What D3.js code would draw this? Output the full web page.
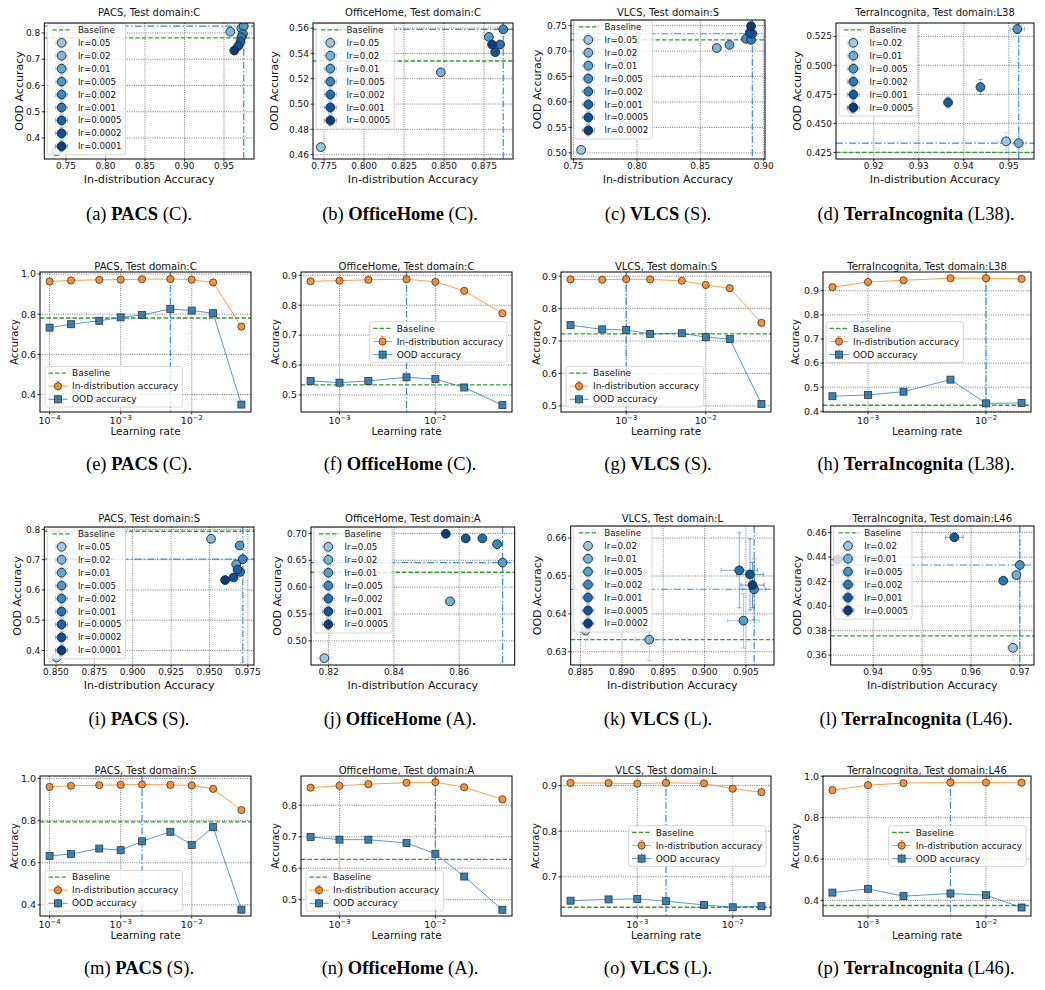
<!DOCTYPE html>
<html><head><meta charset="utf-8">
<script src="https://cdn.jsdelivr.net/npm/d3@7"></script>
<style>
body{margin:0;background:#fff;}
svg{display:block;}
text{font-family:"DejaVu Sans",sans-serif;fill:#111;}
text.cap{font-family:"Liberation Serif","Times New Roman",serif;fill:#000;}
</style></head><body>
<svg id="fig" width="1045" height="990"></svg>
<script>
// ================= DATA =================
// PACS, test domain C
const pacsC_lr   = [0.0001,0.0002,0.0005,0.001,0.002,0.005,0.01,0.02,0.05];
const pacsC_id   = [0.963,0.968,0.971,0.972,0.974,0.975,0.972,0.958,0.738];
const pacsC_ood  = [0.733,0.750,0.767,0.784,0.796,0.826,0.818,0.805,0.350];
const pacsC_base = 0.781;
const pacsC_xTicks = [0.75,0.80,0.85,0.90,0.95];
const pacsC_yTicks = [0.4,0.5,0.6,0.7,0.8];
const pacsC_accTicks = [0.4,0.6,0.8,1.0];

// OfficeHome, test domain C
const ohC_lr   = [0.0005,0.001,0.002,0.005,0.01,0.02,0.05];
const ohC_id   = [0.880,0.882,0.885,0.887,0.878,0.848,0.773];
const ohC_ood  = [0.547,0.541,0.547,0.559,0.553,0.525,0.466];
const ohC_base = 0.534;
const ohC_xTicks = [0.775,0.800,0.825,0.850,0.875];
const ohC_yTicks = [0.46,0.48,0.50,0.52,0.54,0.56];
const ohC_accTicks = [0.5,0.6,0.7,0.8,0.9];

// VLCS, test domain S
const vlcsS_lr   = [0.0002,0.0005,0.001,0.002,0.005,0.01,0.02,0.05];
const vlcsS_id   = [0.890,0.889,0.891,0.890,0.886,0.873,0.863,0.756];
const vlcsS_ood  = [0.749,0.736,0.734,0.722,0.724,0.712,0.706,0.506];
const vlcsS_base = 0.722;
const vlcsS_xTicks = [0.75,0.80,0.85,0.90];
const vlcsS_yTicks = [0.50,0.55,0.60,0.65,0.70,0.75];
const vlcsS_accTicks = [0.5,0.6,0.7,0.8,0.9];

// TerraIncognita, test domain L38
const tiA_lr     = [0.0005,0.001,0.002,0.005,0.01,0.02];
const tiA_id     = [0.915,0.9365,0.9437,0.9519,0.9522,0.9494];
const tiA_ood    = [0.4625,0.468,0.4813,0.5313,0.4330,0.4345];
const tiA_idErr  = [0.0018,0.0005,0.0005,0.0016,0.0015,0.0020];
const tiA_oodErr = [0.0060,0.0047,0.0065,0.0040,0.0079,0.0075];
const tiA_base   = 0.425;
const tiA_xTicks = [0.92,0.93,0.94,0.95];
const tiA_yTicks = [0.425,0.450,0.475,0.500,0.525];
const tiA_accTicks = [0.4,0.5,0.6,0.7,0.8,0.9];

// PACS, test domain S
const pacsS_lr   = [0.0001,0.0002,0.0005,0.001,0.002,0.005,0.01,0.02,0.05];
const pacsS_id   = [0.9602,0.9657,0.9683,0.9700,0.9717,0.9696,0.9674,0.9510,0.8504];
const pacsS_ood  = [0.6326,0.6414,0.6674,0.6596,0.7017,0.7470,0.6845,0.7690,0.3770];
const pacsS_base = 0.794;
const pacsS_xTicks = [0.850,0.875,0.900,0.925,0.950,0.975];
const pacsS_yTicks = [0.4,0.5,0.6,0.7,0.8];
const pacsS_accTicks = [0.4,0.6,0.8,1.0];

// OfficeHome, test domain A
const ohA_lr     = [0.0005,0.001,0.002,0.005,0.01,0.02,0.05];
const ohA_id     = [0.8559,0.8620,0.8671,0.8716,0.8733,0.8572,0.8187];
const ohA_ood    = [0.6994,0.6907,0.6907,0.6800,0.6457,0.5735,0.4678];
const ohA_idErr  = [0.0005,0.0008,0.0008,0.0012,0.0005,0.0015,0.0023];
const ohA_oodErr = [0.0015,0.0015,0.0015,0.0020,0.0015,0.0020,0.0020];
const ohA_base   = 0.6277;
const ohA_xTicks = [0.82,0.84,0.86];
const ohA_yTicks = [0.50,0.55,0.60,0.65,0.70];
const ohA_accTicks = [0.5,0.6,0.7,0.8];

// VLCS, test domain L
const vlcsL_lr     = [0.0002,0.0005,0.001,0.002,0.005,0.01,0.02];
const vlcsL_id     = [0.9058,0.9055,0.9042,0.9060,0.9047,0.8933,0.8856];
const vlcsL_ood    = [0.6476,0.6504,0.6515,0.6465,0.6382,0.6332,0.6356];
const vlcsL_idErr  = [0.0014,0.0016,0.0022,0.0014,0.0019,0.0017,0.0015];
const vlcsL_oodErr = [0.0060,0.0094,0.0099,0.0080,0.0072,0.0055,0.0050];
const vlcsL_base   = 0.6332;
const vlcsL_xTicks = [0.885,0.890,0.895,0.900,0.905];
const vlcsL_yTicks = [0.63,0.64,0.65,0.66];
const vlcsL_accTicks = [0.7,0.8,0.9];

// TerraIncognita, test domain L46
const tiB_lr     = [0.0005,0.001,0.002,0.005,0.01,0.02];
const tiB_id     = [0.9327,0.9566,0.9666,0.9700,0.9693,0.9686];
const tiB_ood    = [0.4380,0.4562,0.4208,0.4336,0.4254,0.3660];
const tiB_idErr  = [0.0015,0.0018,0.0006,0.0008,0.0008,0.0012];
const tiB_oodErr = [0.0030,0.0030,0.0020,0.0030,0.0020,0.0100];
const tiB_base   = 0.3757;
const tiB_xTicks = [0.94,0.95,0.96,0.97];
const tiB_yTicks = [0.36,0.38,0.40,0.42,0.44,0.46];
const tiB_accTicks = [0.4,0.6,0.8,1.0];

// ================= BUILD =================
const mk = (lr,id,ood,base,idErr,oodErr)=>({lr,id,ood,base,idErr:idErr||lr.map(()=>0),oodErr:oodErr||lr.map(()=>0)});
const PACS_C = mk(pacsC_lr,pacsC_id,pacsC_ood,pacsC_base);
const OH_C   = mk(ohC_lr,ohC_id,ohC_ood,ohC_base);
const VLCS_S = mk(vlcsS_lr,vlcsS_id,vlcsS_ood,vlcsS_base);
const TI_38  = mk(tiA_lr,tiA_id,tiA_ood,tiA_base,tiA_idErr,tiA_oodErr);
const PACS_S = mk(pacsS_lr,pacsS_id,pacsS_ood,pacsS_base);
const OH_A   = mk(ohA_lr,ohA_id,ohA_ood,ohA_base,ohA_idErr,ohA_oodErr);
const VLCS_L = mk(vlcsL_lr,vlcsL_id,vlcsL_ood,vlcsL_base,vlcsL_idErr,vlcsL_oodErr);
const TI_46  = mk(tiB_lr,tiB_id,tiB_ood,tiB_base,tiB_idErr,tiB_oodErr);

// layout per row
const rows = [
  {title:15.7, xlab:182.5, cap:219.5, tickFs:9,   labFs:11,   ylabFs:11},
  {title:269.7, xlab:435,  cap:469.5, tickFs:9.5, labFs:10.5, ylabFs:10},
  {title:522.3, xlab:688.5, cap:724.5, tickFs:9,  labFs:11,   ylabFs:11},
  {title:773.7, xlab:939,  cap:973.5, tickFs:9.5, labFs:10.5, ylabFs:10}
];
const capX = [139, 400, 658, 916];

const panels = [
 {key:'a',kind:'scatter',ds:PACS_C,row:0,col:0,box:[44.3,254,23,159],xDom:[0.7226,0.988],yDom:[0.32,0.838],xTicks:pacsC_xTicks,yTicks:pacsC_yTicks,xDec:2,yDec:1,title:'PACS, Test domain:C',name:'PACS',dom:'C',yoff:25},
 {key:'b',kind:'scatter',ds:OH_C,row:0,col:1,box:[313,513,23,159],xDom:[0.7681,0.8931],yDom:[0.4566,0.564],xTicks:ohC_xTicks,yTicks:ohC_yTicks,xDec:3,yDec:2,title:'OfficeHome, Test domain:C',name:'OfficeHome',dom:'C',yoff:39},
 {key:'c',kind:'scatter',ds:VLCS_S,row:0,col:2,box:[571,765,20,159],xDom:[0.748,0.901],yDom:[0.488,0.761],xTicks:vlcsS_xTicks,yTicks:vlcsS_yTicks,xDec:2,yDec:2,title:'VLCS, Test domain:S',name:'VLCS',dom:'S',yoff:34},
 {key:'d',kind:'scatter',ds:TI_38,row:0,col:3,box:[836,1034,23,159],xDom:[0.9116,0.9556],yDom:[0.4193,0.5365],xTicks:tiA_xTicks,yTicks:tiA_yTicks,xDec:2,yDec:3,title:'TerraIncognita, Test domain:L38',name:'TerraIncognita',dom:'L38',yoff:39},

 {key:'e',kind:'line',ds:PACS_C,row:1,col:0,box:[40,251,272,412],yDom:[0.313,1.01],yTicks:pacsC_accTicks,yDec:1,title:'PACS, Test domain:C',name:'PACS',dom:'C',yoff:26,leg:'ll'},
 {key:'f',kind:'line',ds:OH_C,row:1,col:1,box:[301,512,272,412],yDom:[0.443,0.911],yTicks:ohC_accTicks,yDec:1,title:'OfficeHome, Test domain:C',name:'OfficeHome',dom:'C',yoff:25.7,leg:'cr'},
 {key:'g',kind:'line',ds:VLCS_S,row:1,col:2,box:[561,771,272,412],yDom:[0.481,0.913],yTicks:vlcsS_accTicks,yDec:1,title:'VLCS, Test domain:S',name:'VLCS',dom:'S',yoff:25.3,leg:'ll'},
 {key:'h',kind:'line',ds:TI_38,row:1,col:3,box:[823,1031,272,412],yDom:[0.397,0.978],yTicks:tiA_accTicks,yDec:1,title:'TerraIncognita, Test domain:L38',name:'TerraIncognita',dom:'L38',yoff:28,leg:'cl'},

 {key:'i',kind:'scatter',ds:PACS_S,row:2,col:0,box:[44.3,254,527,665],xDom:[0.8424,0.979],yDom:[0.352,0.808],xTicks:pacsS_xTicks,yTicks:pacsS_yTicks,xDec:3,yDec:1,title:'PACS, Test domain:S',name:'PACS',dom:'S',yoff:27.3},
 {key:'j',kind:'scatter',ds:OH_A,row:2,col:1,box:[311,514.7,527,665],xDom:[0.8146,0.877],yDom:[0.455,0.712],xTicks:ohA_xTicks,yTicks:ohA_yTicks,xDec:2,yDec:2,title:'OfficeHome, Test domain:A',name:'OfficeHome',dom:'A',yoff:34},
 {key:'k',kind:'scatter',ds:VLCS_L,row:2,col:2,box:[570.7,774,526,665],xDom:[0.8838,0.9084],yDom:[0.6265,0.6632],xTicks:vlcsL_xTicks,yTicks:vlcsL_yTicks,xDec:3,yDec:2,title:'VLCS, Test domain:L',name:'VLCS',dom:'L',yoff:33.4},
 {key:'l',kind:'scatter',ds:TI_46,row:2,col:3,box:[830.7,1034,526,665],xDom:[0.9313,0.9729],yDom:[0.352,0.4654],xTicks:tiB_xTicks,yTicks:tiB_yTicks,xDec:2,yDec:2,title:'TerraIncognita, Test domain:L46',name:'TerraIncognita',dom:'L46',yoff:33.4},

 {key:'m',kind:'line',ds:PACS_S,row:3,col:0,box:[40,251,776,916],yDom:[0.347,1.012],yTicks:pacsS_accTicks,yDec:1,title:'PACS, Test domain:S',name:'PACS',dom:'S',yoff:26,leg:'ll'},
 {key:'n',kind:'line',ds:OH_A,row:3,col:1,box:[301,512,776,916],yDom:[0.448,0.893],yTicks:ohA_accTicks,yDec:1,title:'OfficeHome, Test domain:A',name:'OfficeHome',dom:'A',yoff:26,leg:'ll'},
 {key:'o',kind:'line',ds:VLCS_L,row:3,col:2,box:[561,771,776,916],yDom:[0.614,0.921],yTicks:vlcsL_accTicks,yDec:1,title:'VLCS, Test domain:L',name:'VLCS',dom:'L',yoff:26,leg:'cr'},
 {key:'p',kind:'line',ds:TI_46,row:3,col:3,box:[823,1031,776,916],yDom:[0.325,1.001],yTicks:tiB_accTicks,yDec:1,title:'TerraIncognita, Test domain:L46',name:'TerraIncognita',dom:'L46',yoff:28,leg:'cr'}
];

// ================= DRAW =================
const svg = d3.select('#fig');
const defs = svg.append('defs');
const BLUE='#1f77b4', ORANGE='#ff7f0e', GREEN='#2ca02c', BEST='#3a8dd0';
const GRIDC='#555';

function frame(p){
  const [L,R,T,B]=p.box;
  defs.append('clipPath').attr('id','c'+p.key).append('rect')
    .attr('x',L).attr('y',T).attr('width',R-L).attr('height',B-T);
  const g=svg.append('g');
  const inner=g.append('g').attr('clip-path',`url(#c${p.key})`);
  return {g,inner,L,R,T,B};
}
function seg(sel,x1,y1,x2,y2,stroke,w,dash,op){
  const l=sel.append('line').attr('x1',x1).attr('y1',y1).attr('x2',x2).attr('y2',y2)
    .attr('stroke',stroke).attr('stroke-width',w);
  if(dash) l.attr('stroke-dasharray',dash);
  if(op!=null) l.attr('stroke-opacity',op);
  return l;
}
function grid(inner,xs,ys,L,R,T,B){
  xs.forEach(px=>seg(inner,px,T,px,B,GRIDC,0.8,'1,1.3'));
  ys.forEach(py=>seg(inner,L,py,R,py,GRIDC,0.8,'1,1.3'));
}
function decor(g,p,L,R,T,B,y){
  const r=rows[p.row];
  g.append('rect').attr('x',L).attr('y',T).attr('width',R-L).attr('height',B-T)
    .attr('fill','none').attr('stroke','#000').attr('stroke-width',1);
  p.yTicks.filter(v=>v>=p.yDom[0]&&v<=p.yDom[1]).forEach(v=>{
    seg(g,L-2.5,y(v),L,y(v),'#000',0.8);
    g.append('text').attr('x',L-4).attr('y',y(v)).attr('dy','0.35em').attr('text-anchor','end')
      .attr('font-size',r.tickFs).text(v.toFixed(p.yDec));
  });
  g.append('text').attr('x',(L+R)/2).attr('y',r.title).attr('text-anchor','middle')
    .attr('font-size',10).text(p.title);
  g.append('text').attr('x',(L+R)/2).attr('y',r.xlab).attr('text-anchor','middle')
    .attr('font-size',r.labFs).text(p.kind==='scatter'?'In-distribution Accuracy':'Learning rate');
  g.append('text').attr('transform',`translate(${L-p.yoff+3.8},${(T+B)/2}) rotate(-90)`)
    .attr('text-anchor','middle').attr('font-size',r.ylabFs)
    .text(p.kind==='scatter'?'OOD Accuracy':'Accuracy');
  const cap=svg.append('text').attr('class','cap').attr('x',capX[p.col]).attr('y',r.cap)
    .attr('text-anchor','middle').attr('font-size',18.5);
  cap.append('tspan').text(`(${p.key}) `);
  cap.append('tspan').attr('font-weight','bold').text(p.name);
  cap.append('tspan').text(` (${p.dom}).`);
}
function errMarker(sel,cx,cy,dx,dy,color,op){
  const cap=2.3;
  if(dx>0.3){ seg(sel,cx-dx,cy,cx+dx,cy,color,1,null,op);
    seg(sel,cx-dx,cy-cap,cx-dx,cy+cap,color,1,null,op); seg(sel,cx+dx,cy-cap,cx+dx,cy+cap,color,1,null,op);}
  if(dy>0.3){ seg(sel,cx,cy-dy,cx,cy+dy,color,1,null,op);
    seg(sel,cx-cap,cy-dy,cx+cap,cy-dy,color,1,null,op); seg(sel,cx-cap,cy+dy,cx+cap,cy+dy,color,1,null,op);}
}

function scatterPanel(p){
  const {g,inner,L,R,T,B}=frame(p);
  const ds=p.ds, n=ds.lr.length;
  const x=d3.scaleLinear().domain(p.xDom).range([L,R]);
  const y=d3.scaleLinear().domain(p.yDom).range([B,T]);
  grid(inner,p.xTicks.map(x),p.yTicks.map(y),L,R,T,B);
  const best=d3.maxIndex(ds.id);
  seg(inner,L,y(ds.base),R,y(ds.base),GREEN,1.3,'4.5,2');
  seg(inner,L,y(ds.ood[best]),R,y(ds.ood[best]),BEST,1.2,'7,2.2,1.5,2.2');
  seg(inner,x(ds.id[best]),T,x(ds.id[best]),B,BEST,1.2,'7,2.2,1.5,2.2');
  const order=d3.range(n).sort((a,b)=>ds.lr[b]-ds.lr[a]);
  const col=k=>d3.interpolateBlues(0.38+0.57*k/(n-1));
  order.forEach((i,k)=>{
    const cx=x(ds.id[i]), cy=y(ds.ood[i]);
    const dx=x(ds.id[i]+ds.idErr[i])-cx, dy=cy-y(ds.ood[i]+ds.oodErr[i]);
    errMarker(inner,cx,cy,dx,dy,col(k),0.55);
  });
  order.forEach((i,k)=>{
    inner.append('circle').attr('cx',x(ds.id[i])).attr('cy',y(ds.ood[i])).attr('r',4.4)
      .attr('fill',col(k)).attr('stroke','#222').attr('stroke-width',0.9);
  });
  // legend
  const rowH=12.93, fs=8.7;
  const lx=L+3, ly=T+0.3;
  const h=15.2+order.length*rowH;
  const lg=g.append('g');
  const rect=lg.append('rect').attr('x',lx).attr('y',ly).attr('height',h).attr('rx',2.5)
    .attr('fill','#fff').attr('fill-opacity',0.8).attr('stroke','#ccc').attr('stroke-width',0.8);
  const cy0=ly+6.6;
  seg(lg,lx+5,cy0,lx+25,cy0,GREEN,1.3,'4.5,2');
  let maxW=0;
  const t0=lg.append('text').attr('x',lx+30.6).attr('y',cy0).attr('dy','0.35em').attr('font-size',fs).text('Baseline');
  maxW=t0.node().getComputedTextLength();
  order.forEach((i,k)=>{
    const cy=cy0+(k+1)*rowH, cx=lx+14.3;
    errMarker(lg,cx,cy,6,5.5,col(k),0.45);
    lg.append('circle').attr('cx',cx).attr('cy',cy).attr('r',4.4).attr('fill',col(k))
      .attr('stroke','#222').attr('stroke-width',0.9);
    const t=lg.append('text').attr('x',lx+30.6).attr('y',cy).attr('dy','0.35em').attr('font-size',fs).text('lr='+ds.lr[i]);
    maxW=Math.max(maxW,t.node().getComputedTextLength());
  });
  rect.attr('width',30.6+maxW+4);
  // x ticks
  const r=rows[p.row];
  p.xTicks.forEach(v=>{
    seg(g,x(v),B,x(v),B+2.5,'#000',0.8);
    g.append('text').attr('x',x(v)).attr('y',B+9.8).attr('text-anchor','middle')
      .attr('font-size',r.tickFs).text(v.toFixed(p.xDec));
  });
  decor(g,p,L,R,T,B,y);
}

function linePanel(p){
  const {g,inner,L,R,T,B}=frame(p);
  const ds=p.ds;
  const lmin=Math.log10(d3.min(ds.lr)), lmax=Math.log10(d3.max(ds.lr));
  const m=0.05*(lmax-lmin);
  const x=d3.scaleLog().domain([10**(lmin-m),10**(lmax+m)]).range([L,R]);
  const y=d3.scaleLinear().domain(p.yDom).range([B,T]);
  const decs=d3.range(Math.ceil(lmin-m),Math.floor(lmax+m)+1);
  grid(inner,decs.map(e=>x(10**e)),p.yTicks.map(y),L,R,T,B);
  const best=d3.maxIndex(ds.id);
  seg(inner,L,y(ds.base),R,y(ds.base),GREEN,1.3,'4.5,2');
  seg(inner,x(ds.lr[best]),T,x(ds.lr[best]),B,BEST,1.2,'7,2.2,1.5,2.2');
  const line=d3.line().x((d,i)=>x(ds.lr[i])).y(d=>y(d));
  inner.append('path').datum(ds.id).attr('d',line).attr('fill','none').attr('stroke',ORANGE).attr('stroke-width',1).attr('stroke-opacity',0.75);
  inner.append('path').datum(ds.ood).attr('d',line).attr('fill','none').attr('stroke',BLUE).attr('stroke-width',1).attr('stroke-opacity',0.75);
  ds.id.forEach((v,i)=>{
    inner.append('circle').attr('cx',x(ds.lr[i])).attr('cy',y(v)).attr('r',3.6)
      .attr('fill',ORANGE).attr('fill-opacity',0.85).attr('stroke','#333').attr('stroke-width',0.8);
  });
  ds.ood.forEach((v,i)=>{
    inner.append('rect').attr('x',x(ds.lr[i])-3.5).attr('y',y(v)-3.5).attr('width',7).attr('height',7)
      .attr('fill',BLUE).attr('fill-opacity',0.9).attr('stroke','#333').attr('stroke-width',0.8);
  });
  // legend
  const rowH=13.1, fs=9, h=14.4+2*rowH;
  const lg=g.append('g');
  const rect=lg.append('rect').attr('x',0).attr('y',0).attr('height',h).attr('rx',2.5)
    .attr('fill','#fff').attr('fill-opacity',0.8).attr('stroke','#ccc').attr('stroke-width',0.8);
  const labels=['Baseline','In-distribution accuracy','OOD accuracy'];
  let maxW=0;
  labels.forEach((t,k)=>{
    const cy=6.7+k*rowH;
    if(k===0) seg(lg,3.5,cy,22.5,cy,GREEN,1.3,'4.5,2');
    if(k===1){ seg(lg,3.5,cy,22.5,cy,ORANGE,1,null,0.75); seg(lg,13,cy-5,13,cy+5,ORANGE,1,null,0.7);
      seg(lg,11,cy-5,15,cy-5,ORANGE,1,null,0.7);
      lg.append('circle').attr('cx',13).attr('cy',cy).attr('r',3.6).attr('fill',ORANGE).attr('fill-opacity',0.85).attr('stroke','#333').attr('stroke-width',0.8);}
    if(k===2){ seg(lg,3.5,cy,22.5,cy,BLUE,1,null,0.75); seg(lg,13,cy-5,13,cy+5,BLUE,1,null,0.7);
      lg.append('rect').attr('x',9.5).attr('y',cy-3.5).attr('width',7).attr('height',7).attr('fill',BLUE).attr('fill-opacity',0.9).attr('stroke','#333').attr('stroke-width',0.8);}
    const tx=lg.append('text').attr('x',27).attr('y',cy).attr('dy','0.35em').attr('font-size',fs).text(t);
    maxW=Math.max(maxW,tx.node().getComputedTextLength());
  });
  const w=27+maxW+4;
  rect.attr('width',w);
  let lx,ly;
  if(p.leg==='ll'){ lx=L+5; ly=B-5-h; }
  else if(p.leg==='cr'){ lx=R-5-w; ly=(T+B)/2-h/2; }
  else { lx=L+3; ly=(T+B)/2-h/2; }
  lg.attr('transform',`translate(${lx},${ly})`);
  // x ticks (log decades)
  const r=rows[p.row];
  decs.forEach(e=>{
    const px=x(10**e);
    seg(g,px,B,px,B+2.5,'#000',0.8);
    const t=g.append('text').attr('x',px).attr('y',B+12).attr('text-anchor','middle').attr('font-size',r.tickFs);
    t.append('tspan').text('10');
    t.append('tspan').attr('dy',-4.2).attr('font-size',6.8).text('\u2212'+Math.abs(e));
  });
  decor(g,p,L,R,T,B,y);
}

panels.forEach(p=> p.kind==='scatter'?scatterPanel(p):linePanel(p));
</script></body></html>
